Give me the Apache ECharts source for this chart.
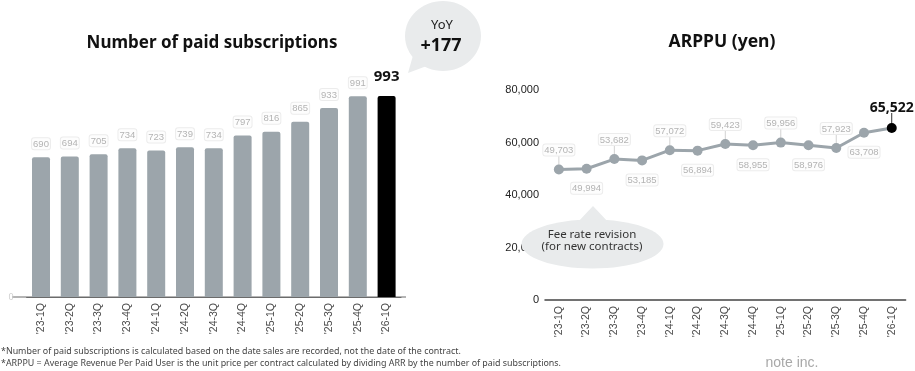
<!DOCTYPE html>
<html>
<head>
<meta charset="utf-8">
<script src="https://cdn.jsdelivr.net/npm/echarts@6/dist/echarts.min.js"></script>
<style>
html,body{margin:0;padding:0;background:#fff;}
#c{width:915px;height:371px;}
</style>
</head>
<body>
<div id="c"></div>
<script>
// ---- data ----
const categories = ["'23-1Q","'23-2Q","'23-3Q","'23-4Q","'24-1Q","'24-2Q","'24-3Q","'24-4Q","'25-1Q","'25-2Q","'25-3Q","'25-4Q","'26-1Q"];
const subscriptions = [690,694,705,734,723,739,734,797,816,865,933,991,993];
const arppu = [49703,49994,53682,53185,57072,56894,59423,58955,59956,58976,57923,63708,65522];
const arppuLabelSide = ['top','bottom','top','bottom','top','bottom','top','bottom','top','bottom','top','bottom','top'];
const leftTitle = 'Number of paid subscriptions';
const rightTitle = 'ARPPU (yen)';
const yoyLabel = 'YoY';
const yoyValue = '+177';
const feeNote = ['Fee rate revision', '(for new contracts)'];
const footnotes = [
  '*Number of paid subscriptions is calculated based on the date sales are recorded, not the date of the contract.',
  '*ARPPU = Average Revenue Per Paid User is the unit price per contract calculated by dividing ARR by the number of paid subscriptions.'
];
const company = 'note inc.';

// ---- styles ----
const GRAY = '#9ca5ab';
const fmt = v => String(v).replace(/\B(?=(\d{3})+(?!\d))/g, ',');
const lastIdx = categories.length - 1;
const smallLabel = {
  color: '#b3b3b3', fontSize: 9.5, fontFamily: 'Liberation Sans',
  borderColor: '#ececec', borderWidth: 1, borderRadius: 2, padding: [1, 1, 0, 1],
  backgroundColor: '#fdfdfd'
};

const chart = echarts.init(document.getElementById('c'), null, {renderer: 'canvas'});

const barData = subscriptions.map((v, i) => i === lastIdx ? {
  value: v, itemStyle: {color: '#000'},
  label: {color: '#111', fontSize: 15, fontWeight: 'bold', fontFamily: 'Noto Sans', distance: 12,
          borderWidth: 0, backgroundColor: 'transparent'}
} : v);

const lineData = arppu.map((v, i) => {
  if (i === lastIdx) {
    return {value: v, itemStyle: {color: '#000'},
      label: {position: 'top', color: '#111', fontSize: 14, fontWeight: 'bold', fontFamily: 'Noto Sans',
              distance: 8, borderWidth: 0, backgroundColor: 'transparent'}};
  }
  return {value: v, label: {position: arppuLabelSide[i]}};
});
const leaderData = arppu.map((v, i) => [i, v]);

const option = {
  animation: false,
  textStyle: {fontFamily: 'Noto Sans'},
  grid: [
    {left: 26.6, right: 514, top: 54, bottom: 74},
    {left: 545, right: 9.4, top: 90, bottom: 71}
  ],
  xAxis: [
    {type: 'category', gridIndex: 0, data: categories,
     axisLine: {show: true, lineStyle: {color: '#6b6b6b', width: 1}},
     axisTick: {show: false},
     axisLabel: {rotate: 90, fontSize: 10.5, color: '#4a4a4a', fontFamily: 'Liberation Sans', margin: 6}},
    {type: 'category', gridIndex: 1, data: categories,
     axisLine: {show: true, lineStyle: {color: '#444', width: 1.5}},
     axisTick: {show: false},
     axisLabel: {rotate: 90, fontSize: 10.5, color: '#4a4a4a', fontFamily: 'Liberation Sans', margin: 6}}
  ],
  yAxis: [
    {type: 'value', gridIndex: 0, min: 0, max: 1200, interval: 1200,
     splitLine: {show: false}, axisLine: {show: false}, axisTick: {show: false},
     axisLabel: {color: '#d0d0d0', fontSize: 9, margin: 13, formatter: v => v === 0 ? '0' : ''}},
    {type: 'value', gridIndex: 1, min: 0, max: 80000, interval: 20000,
     splitLine: {show: false}, axisLine: {show: false}, axisTick: {show: false},
     axisLabel: {color: '#222', fontSize: 11, fontFamily: 'Liberation Sans', margin: 6, formatter: v => fmt(v)}}
  ],
  series: [
    {type: 'bar', xAxisIndex: 0, yAxisIndex: 0, data: barData, barWidth: 18,
     itemStyle: {color: GRAY, borderRadius: [2, 2, 0, 0]},
     label: Object.assign({show: true, position: 'top', distance: 8}, smallLabel)},
    {type: 'custom', xAxisIndex: 1, yAxisIndex: 1, data: leaderData, z: 1, silent: true,
     encode: {x: 0, y: 1},
     renderItem: function (params, api) {
       const i = params.dataIndex;
       if (arppuLabelSide[i] !== 'top') return null;
       const p = api.coord([api.value(0), api.value(1)]);
       return {type: 'line', shape: {x1: p[0], y1: p[1] - 3, x2: p[0], y2: p[1] - 15},
               style: {stroke: i === lastIdx ? '#333' : '#d2d2d2', lineWidth: 1}};
     }},
    {type: 'line', xAxisIndex: 1, yAxisIndex: 1, data: lineData, z: 3,
     symbol: 'circle', symbolSize: 10,
     lineStyle: {color: GRAY, width: 3},
     itemStyle: {color: GRAY},
     label: Object.assign({show: true, distance: 9, formatter: p => fmt(p.value)}, smallLabel)}
  ],
  graphic: [
    // extension of left base line
    {type: 'line', z: 0, shape: {x1: 12, y1: 297, x2: 406, y2: 297}, style: {stroke: '#6b6b6b', lineWidth: 1}},
    // titles
    {type: 'text', x: 212, y: 43, style: {text: leftTitle, font: 'bold 17px "Noto Sans"', fill: '#111', align: 'center', verticalAlign: 'middle'}},
    {type: 'text', x: 722, y: 42, style: {text: rightTitle, font: 'bold 17.5px "Noto Sans"', fill: '#111', align: 'center', verticalAlign: 'middle'}},
    // YoY bubble
    {type: 'polygon', z: 10, shape: {points: [[414, 52], [432, 64], [408, 73]]}, style: {fill: '#e9ebec'}},
    {type: 'ellipse', z: 10, shape: {cx: 443, cy: 36, rx: 38, ry: 35}, style: {fill: '#e9ebec'}},
    {type: 'text', z: 11, x: 442, y: 25, style: {text: yoyLabel, font: '13px "Noto Sans"', fill: '#222', align: 'center', verticalAlign: 'middle'}},
    {type: 'text', z: 11, x: 441, y: 46, style: {text: yoyValue, font: 'bold 18px "Noto Sans"', fill: '#111', align: 'center', verticalAlign: 'middle'}},
    // Fee rate bubble
    {type: 'polygon', z: 10, shape: {points: [[576, 224], [593, 206], [610, 224]]}, style: {fill: '#e9ebec'}},
    {type: 'ellipse', z: 10, shape: {cx: 592.5, cy: 244, rx: 71, ry: 24.5}, style: {fill: '#e9ebec'}},
    {type: 'text', z: 11, x: 592, y: 235, style: {text: feeNote[0], font: '11.5px "Noto Sans"', fill: '#333', align: 'center', verticalAlign: 'middle'}},
    {type: 'text', z: 11, x: 592, y: 247, style: {text: feeNote[1], font: '11.5px "Noto Sans"', fill: '#333', align: 'center', verticalAlign: 'middle'}},
    // footnotes
    {type: 'text', x: 1, y: 351, style: {text: footnotes[0], font: '8.9px "Noto Sans"', fill: '#444', verticalAlign: 'middle'}},
    {type: 'text', x: 1, y: 363, style: {text: footnotes[1], font: '8.9px "Noto Sans"', fill: '#444', verticalAlign: 'middle'}},
    {type: 'text', x: 792, y: 363, style: {text: company, font: '14px "Liberation Sans"', fill: '#a8a8a8', align: 'center', verticalAlign: 'middle'}}
  ]
};
chart.setOption(option);
</script>
</body>
</html>
